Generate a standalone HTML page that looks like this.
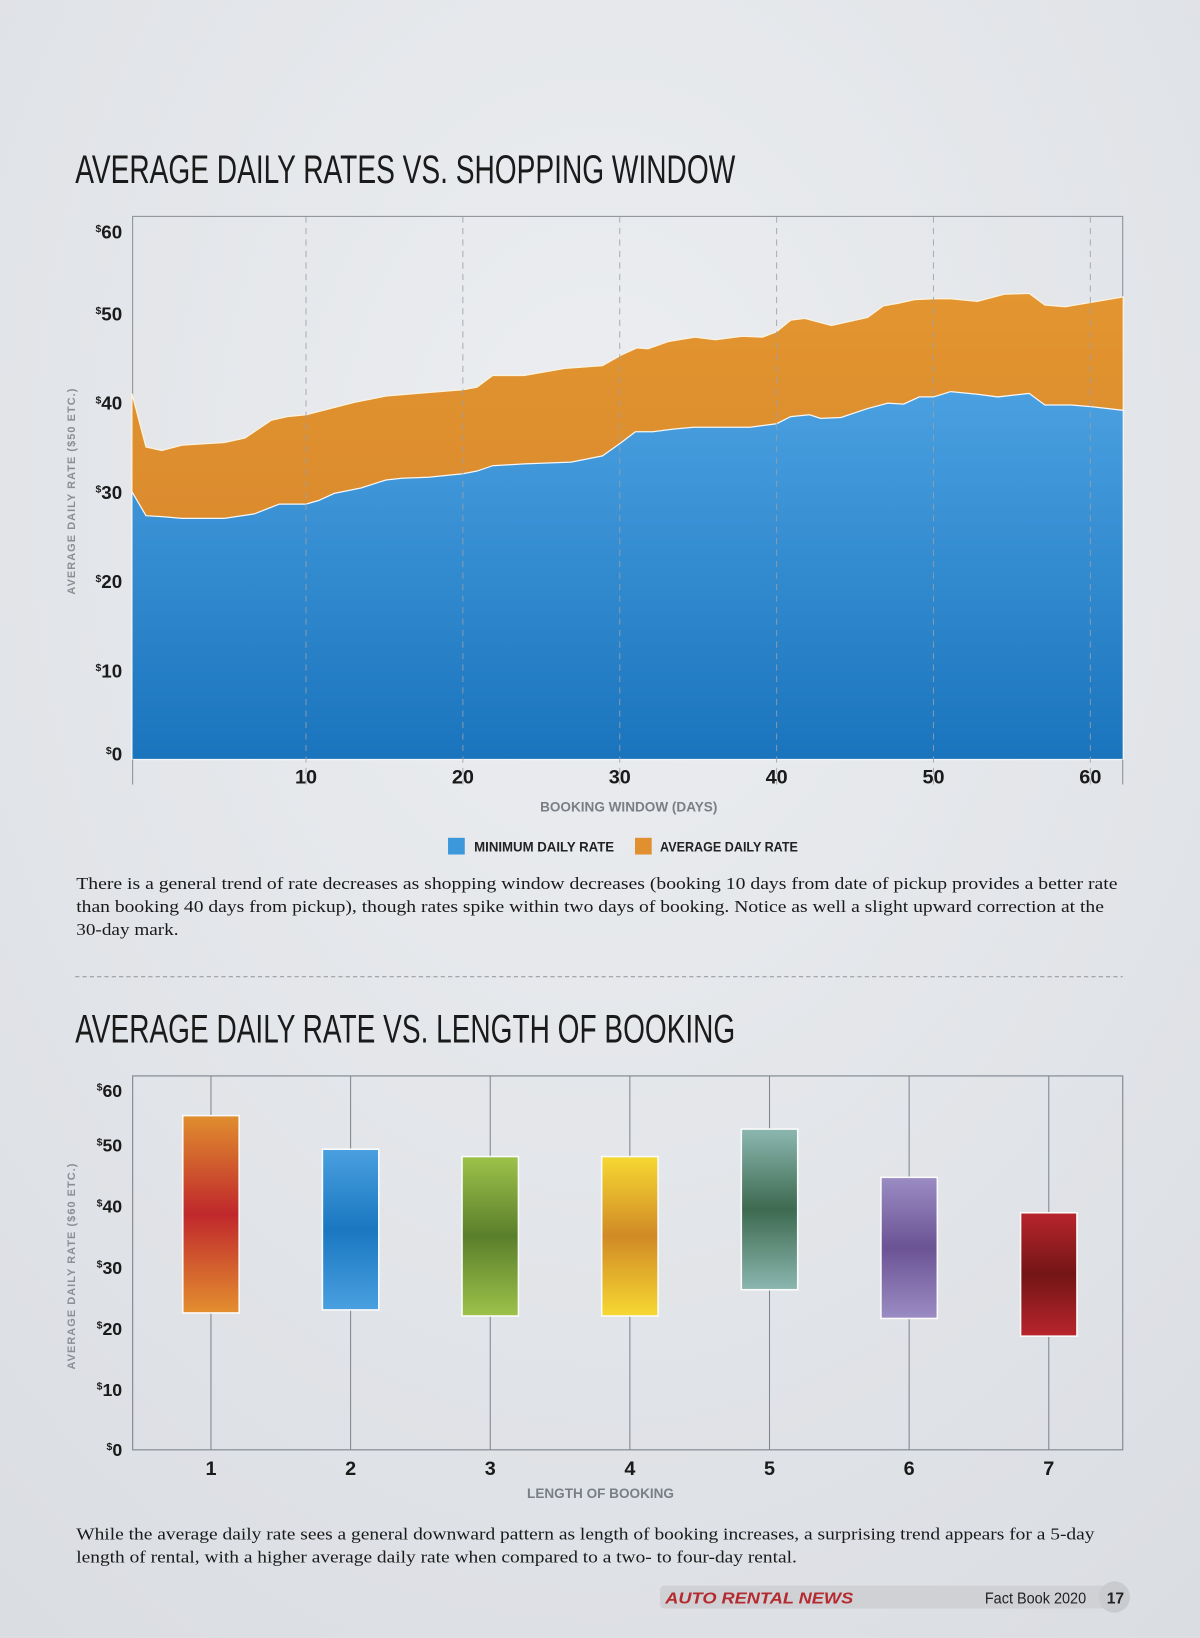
<!DOCTYPE html>
<html><head><meta charset="utf-8">
<style>
html,body{margin:0;padding:0;width:1200px;height:1638px;overflow:hidden;background:#e3e5e9;}
svg{display:block}
</style></head>
<body>
<svg id="page" width="1200" height="1638" viewBox="0 0 1149 1568" xmlns="http://www.w3.org/2000/svg">
<defs>
<radialGradient id="bg" cx="0.5" cy="0.3" r="0.9"><stop offset="0" stop-color="#eceef1"/><stop offset="1" stop-color="#d9dce1"/></radialGradient>
<linearGradient id="blueG" x1="0" y1="0" x2="0" y2="1"><stop offset="0" stop-color="#4aa0e0"/><stop offset="1" stop-color="#1a74bd"/></linearGradient>
<linearGradient id="orgG" x1="0" y1="0" x2="0" y2="1"><stop offset="0" stop-color="#e39530"/><stop offset="1" stop-color="#d3812a"/></linearGradient>
<linearGradient id="g1" x1="0" y1="0" x2="0" y2="1"><stop offset="0" stop-color="#e08e2e"/><stop offset="0.5" stop-color="#c0282c"/><stop offset="1" stop-color="#e38f2f"/></linearGradient>
<linearGradient id="g2" x1="0" y1="0" x2="0" y2="1"><stop offset="0" stop-color="#4aa0e0"/><stop offset="0.5" stop-color="#1a77c0"/><stop offset="1" stop-color="#4aa0e0"/></linearGradient>
<linearGradient id="g3" x1="0" y1="0" x2="0" y2="1"><stop offset="0" stop-color="#9dc24a"/><stop offset="0.5" stop-color="#5a7f2b"/><stop offset="1" stop-color="#9dc24a"/></linearGradient>
<linearGradient id="g4" x1="0" y1="0" x2="0" y2="1"><stop offset="0" stop-color="#f6d832"/><stop offset="0.5" stop-color="#d18a26"/><stop offset="1" stop-color="#f6d832"/></linearGradient>
<linearGradient id="g5" x1="0" y1="0" x2="0" y2="1"><stop offset="0" stop-color="#8cb7b0"/><stop offset="0.5" stop-color="#3d6a50"/><stop offset="1" stop-color="#8cb7b0"/></linearGradient>
<linearGradient id="g6" x1="0" y1="0" x2="0" y2="1"><stop offset="0" stop-color="#9b8cc4"/><stop offset="0.5" stop-color="#6b5394"/><stop offset="1" stop-color="#9b8cc4"/></linearGradient>
<linearGradient id="g7" x1="0" y1="0" x2="0" y2="1"><stop offset="0" stop-color="#b8252c"/><stop offset="0.5" stop-color="#731516"/><stop offset="1" stop-color="#b8252c"/></linearGradient>
</defs>
<rect x="0" y="0" width="1149" height="1568" fill="url(#bg)"/>

<text x="72" y="175" font-family="Liberation Sans Narrow, Liberation Sans, sans-serif" font-size="38" fill="#1a1a1a" textLength="632" lengthAdjust="spacingAndGlyphs">AVERAGE DAILY RATES VS. SHOPPING WINDOW</text>
<g id="chart1"></g>
<g>
 <rect x="429" y="802" width="16" height="16" fill="#3d97db"/>
 <text x="454" y="815" font-family="Liberation Sans Narrow, Liberation Sans, sans-serif" font-weight="bold" font-size="13" fill="#222" textLength="134" lengthAdjust="spacingAndGlyphs">MINIMUM DAILY RATE</text>
 <rect x="608" y="802" width="16" height="16" fill="#e0902e"/>
 <text x="632" y="815" font-family="Liberation Sans Narrow, Liberation Sans, sans-serif" font-weight="bold" font-size="13" fill="#222" textLength="132" lengthAdjust="spacingAndGlyphs">AVERAGE DAILY RATE</text>
</g>
<g font-family="Liberation Serif, serif" font-size="16.5" fill="#1a1a1a">
 <text x="73" y="851" textLength="997" lengthAdjust="spacingAndGlyphs">There is a general trend of rate decreases as shopping window decreases (booking 10 days from date of pickup provides a better rate</text>
 <text x="73" y="873" textLength="984" lengthAdjust="spacingAndGlyphs">than booking 40 days from pickup), though rates spike within two days of booking. Notice as well a slight upward correction at the</text>
 <text x="73" y="895" textLength="98" lengthAdjust="spacingAndGlyphs">30-day mark.</text>
</g>
<line x1="72" y1="935" x2="1075" y2="935" stroke="#9a9ea4" stroke-width="1" stroke-dasharray="4,3"/>

<text x="72" y="998" font-family="Liberation Sans Narrow, Liberation Sans, sans-serif" font-size="38" fill="#1a1a1a" textLength="632" lengthAdjust="spacingAndGlyphs">AVERAGE DAILY RATE VS. LENGTH OF BOOKING</text>
<g id="chart2"></g>
<g font-family="Liberation Serif, serif" font-size="16.5" fill="#1a1a1a">
 <text x="73" y="1474" textLength="975" lengthAdjust="spacingAndGlyphs">While the average daily rate sees a general downward pattern as length of booking increases, a surprising trend appears for a 5-day</text>
 <text x="73" y="1496" textLength="690" lengthAdjust="spacingAndGlyphs">length of rental, with a higher average daily rate when compared to a two- to four-day rental.</text>
</g>
<g>
 <rect x="632" y="1518" width="440" height="22" rx="4" fill="#cfd1d5"/>
 <circle cx="1067" cy="1529" r="15" fill="#c9cbcf"/>
 <text x="637" y="1535" font-family="Liberation Sans, sans-serif" font-style="italic" font-weight="bold" font-size="15" fill="#b52a2e" textLength="180" lengthAdjust="spacingAndGlyphs">AUTO RENTAL NEWS</text>
 <text x="943" y="1535" font-family="Liberation Sans Narrow, Liberation Sans, sans-serif" font-size="15" fill="#222" textLength="97" lengthAdjust="spacingAndGlyphs">Fact Book 2020</text>
 <text x="1068" y="1535" text-anchor="middle" font-family="Liberation Sans Narrow, Liberation Sans, sans-serif" font-weight="bold" font-size="15" fill="#222">17</text>
</g>
</svg>
<script>
// ---- Chart 1 data ----
const days = [-1.1,-0.2,0.8,2.1,4.8,6.7,8.3,10,10.8,11.8,13.5,15.1,16.1,17.8,20,20.9,21.9,23.9,26.9,28.9,30.1,31,32.1,33.4,34.7,38.3,40,40.9,42.1,42.8,44.1,45.8,47.1,48.1,49.1,50,51.1,52.8,54.1,56.1,57.1,58.8,60.1,62.1];
const minRate = [30,27.3,27.2,27,27,27.5,28.6,28.6,29,29.8,30.4,31.3,31.5,31.6,32,32.3,32.9,33.1,33.3,34,35.5,36.7,36.7,37,37.2,37.2,37.6,38.4,38.6,38.2,38.3,39.3,39.9,39.8,40.6,40.6,41.2,40.9,40.6,41,39.7,39.7,39.5,39.1];
const avgDays = [-1.1,-0.2,0.8,2.1,4.8,6.1,7.8,8.8,10,13.1,15.1,17.8,20,20.9,21.9,23.9,26.5,28.9,30.1,31.1,31.8,33.1,34.8,36.1,37.8,39.1,40,40.9,41.8,43.5,45.8,46.8,47.8,48.8,50,51.1,52.8,54.5,56.1,57.1,58.4,62.1];
const avgRate = [41,35,34.6,35.2,35.5,36,38,38.4,38.6,40,40.7,41.1,41.4,41.7,43,43,43.8,44.1,45.3,46.1,46,46.8,47.3,47,47.4,47.3,47.9,49.2,49.4,48.6,49.5,50.8,51.1,51.5,51.6,51.6,51.3,52.1,52.2,50.9,50.7,51.8];
const xTicks1 = [10,20,30,40,50,60];
const yTicks1 = [0,10,20,30,40,50,60];

// ---- Chart 2 data ----
const lengths = ['1','2','3','4','5','6','7'];
const highVals = [54.7,49.2,48.0,48.0,52.5,44.6,38.8];
const lowVals = [22.4,22.9,21.9,21.9,26.2,21.5,18.6];
const yTicks2 = [0,10,20,30,40,50,60];

const NS='http://www.w3.org/2000/svg';
function mk(tag, attrs, parent){const e=document.createElementNS(NS,tag);for(const k in attrs)e.setAttribute(k,attrs[k]);parent.appendChild(e);return e;}

// Chart 1
(function(){
 const g=document.getElementById('chart1');
 const L=127,R=1075,T=207,B=727;
 const x=d=>293+(d-10)*15.02;
 const y=v=>B-v*8.55;
 const frame=mk('rect',{x:L,y:T,width:R-L,height:B-T,fill:'none',stroke:'#8a9097','stroke-width':1},g);
 
 
 // orange area: avg top down to baseline
 let p='M'+x(avgDays[0])+','+B;
 avgDays.forEach((d,i)=>p+=' L'+x(d)+','+y(avgRate[i]));
 p+=' L'+x(avgDays[avgDays.length-1])+','+B+' Z';
 const oa=mk('path',{d:p,fill:'url(#orgG)',stroke:'#fbf3e0','stroke-width':1.2},g);
 
 
 let q='M'+x(days[0])+','+B;
 days.forEach((d,i)=>q+=' L'+x(d)+','+y(minRate[i]));
 q+=' L'+x(days[days.length-1])+','+B+' Z';
 const ba=mk('path',{d:q,fill:'url(#blueG)',stroke:'#f4f6f8','stroke-width':1.2},g);
 
 
 xTicks1.forEach(t=>{
  const gl=mk('line',{x1:x(t),x2:x(t),y1:T,y2:B+24,stroke:'#9aa0a8','stroke-width':1,'stroke-dasharray':'6,5',opacity:0.8},g);
  
  
  const tl=mk('text',{x:x(t),y:B+23,'text-anchor':'middle','font-family':'Liberation Sans Narrow, Liberation Sans, sans-serif','font-weight':'bold','font-size':19,fill:'#1a1a1a'},g);
  tl.textContent=t;
  
  
 });
 mk('line',{x1:L,x2:L,y1:B,y2:B+24,stroke:'#8a9097'},g);
 mk('line',{x1:R,x2:R,y1:B,y2:B+24,stroke:'#8a9097'},g);
 yTicks1.forEach(t=>{
  const tl=mk('text',{x:117,y:y(t)+(t==60?14:(t==0?1:7)),'text-anchor':'end','font-family':'Liberation Sans Narrow, Liberation Sans, sans-serif','font-weight':'bold','font-size':18,fill:'#1a1a1a'},g);
  tl.innerHTML='<tspan font-size="10" dy="-6">$</tspan><tspan dy="6">'+t+'</tspan>';
  
  
 });
 const yt=mk('text',{x:0,y:0,transform:'translate(72,470) rotate(-90)','text-anchor':'middle','font-family':'Liberation Sans, sans-serif','font-weight':'bold','font-size':10.5,fill:'#8a8f96','letter-spacing':'1'},g);
 yt.textContent='AVERAGE DAILY RATE ($50 ETC.)';
 
 
 const xt=mk('text',{x:602,y:777,'text-anchor':'middle','font-family':'Liberation Sans Narrow, Liberation Sans, sans-serif','font-weight':'bold','font-size':13,fill:'#7a7f86'},g);
 xt.textContent='BOOKING WINDOW (DAYS)';
 
 
})();

// Chart 2
(function(){
 const g=document.getElementById('chart2');
 const L=127,R=1075,T=1030,B=1388;
 const x=i=>202+i*133.7;
 const y=v=>B-v*5.85;
 const frame=mk('rect',{x:L,y:T,width:R-L,height:B-T,fill:'none',stroke:'#8a9097','stroke-width':1.2},g);
 
 
 lengths.forEach((c,i)=>{
  const ln=mk('line',{x1:x(i),x2:x(i),y1:T,y2:B,stroke:'#7f868e','stroke-width':1},g);
  
  
  const r=mk('rect',{x:x(i)-27,y:y(highVals[i]),width:54,height:y(lowVals[i])-y(highVals[i]),fill:'url(#g'+(i+1)+')',stroke:'#fbfbfb','stroke-width':1.5},g);
  
  
  const tl=mk('text',{x:x(i),y:B+24,'text-anchor':'middle','font-family':'Liberation Sans Narrow, Liberation Sans, sans-serif','font-weight':'bold','font-size':19,fill:'#1a1a1a'},g);
  tl.textContent=c;
  
  
 });
 yTicks2.forEach(t=>{
  const tl=mk('text',{x:117,y:y(t)+(t==60?13:(t==0?6:7)),'text-anchor':'end','font-family':'Liberation Sans Narrow, Liberation Sans, sans-serif','font-weight':'bold','font-size':17,fill:'#1a1a1a'},g);
  tl.innerHTML='<tspan font-size="10" dy="-6">$</tspan><tspan dy="6">'+t+'</tspan>';
  
  
 });
 const yt=mk('text',{x:0,y:0,transform:'translate(72,1212) rotate(-90)','text-anchor':'middle','font-family':'Liberation Sans, sans-serif','font-weight':'bold','font-size':10.5,fill:'#8a8f96','letter-spacing':'1'},g);
 yt.textContent='AVERAGE DAILY RATE ($60 ETC.)';
 
 
 const xt=mk('text',{x:575,y:1434,'text-anchor':'middle','font-family':'Liberation Sans Narrow, Liberation Sans, sans-serif','font-weight':'bold','font-size':13,fill:'#7a7f86'},g);
 xt.textContent='LENGTH OF BOOKING';
 
 
})();
</script>
</body></html>
